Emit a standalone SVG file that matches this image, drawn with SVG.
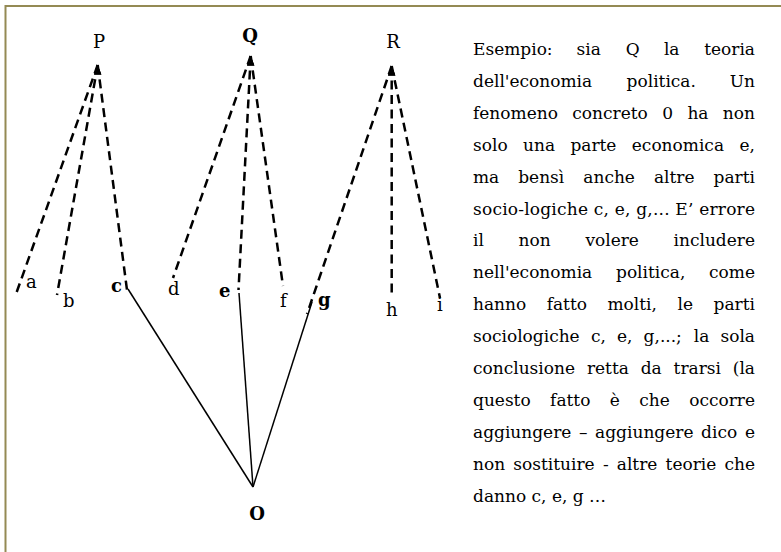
<svg xmlns="http://www.w3.org/2000/svg" width="781" height="552" viewBox="0 0 781 552">
<style>
text{font-family:"DejaVu Serif","Liberation Serif",serif;fill:#000}
.lbl{font-size:18px}
.b{font-weight:bold}
.par{font-size:17px}
.e{text-anchor:end}
.dash{fill:none;stroke:#000;stroke-width:2.5;stroke-dasharray:9 5.5;marker-start:url(#up)}
.solid{fill:none;stroke:#000;stroke-width:1.5}
</style>
<defs>
<marker id="up" markerUnits="userSpaceOnUse" markerWidth="10" markerHeight="8" refX="9.5" refY="3.6" orient="-90">
<path d="M0,0 L9.5,3.6 L0,7.2 z" fill="#000"/>
</marker>
</defs>
<rect width="781" height="552" fill="#fff"/>
<path d="M5.5,552 V6 H781" fill="none" stroke="#948A54" stroke-width="2"/>

<g id="connectors">
<path class="dash" d="M97.7,65 L16,294"/>
<path class="dash" d="M97.7,65 L57,295"/>
<path class="dash" d="M97.7,65 L127,290"/>
<path class="dash" d="M250.7,56 L173,278"/>
<path class="dash" d="M250.7,56 L238.5,290"/>
<path class="dash" d="M250.7,56 L283,286"/>
<path class="dash" d="M391.7,66 L307,314"/>
<path class="dash" d="M391.7,66 L391.7,298"/>
<path class="dash" d="M391.7,66 L440,298"/>
<path class="solid" d="M128,289 L253,487"/>
<path class="solid" d="M239,293 L253,487"/>
<path class="solid" d="M312,302 L253,487"/>
</g>

<g id="P"><text class="lbl" x="99" y="48" text-anchor="middle">P</text></g>
<g id="Q"><text class="lbl b" x="250" y="42" text-anchor="middle" font-size="20">Q</text></g>
<g id="R"><text class="lbl" x="393" y="48" text-anchor="middle">R</text></g>
<g id="a"><text class="lbl" x="26" y="288">a</text></g>
<g id="b"><text class="lbl" x="63" y="307">b</text></g>
<g id="c"><text class="lbl b" x="111" y="292">c</text></g>
<g id="d"><text class="lbl" x="168" y="295">d</text></g>
<g id="e"><text class="lbl b" x="219" y="297">e</text></g>
<g id="f"><text class="lbl" x="280" y="307">f</text></g>
<g id="g"><text class="lbl b" x="318" y="306">g</text></g>
<g id="h"><text class="lbl" x="386" y="316">h</text></g>
<g id="i"><text class="lbl" x="437" y="311">i</text></g>
<g id="O"><text class="lbl b" x="257" y="520" text-anchor="middle">O</text></g>

<g id="testo" class="par">
<text class="par" y="55"><tspan x="473">Esempio:</tspan><tspan x="576.6">sia</tspan><tspan x="625.7">Q</tspan><tspan x="663.9">la</tspan><tspan x="755" class="e">teoria</tspan></text>
<text class="par" y="86.9"><tspan x="473">dell'economia</tspan><tspan x="626.6">politica.</tspan><tspan x="755" class="e">Un</tspan></text>
<text class="par" y="118.8"><tspan x="473">fenomeno</tspan><tspan x="572.3">concreto</tspan><tspan x="662.2">0</tspan><tspan x="687.4">ha</tspan><tspan x="755" class="e">non</tspan></text>
<text class="par" y="150.7"><tspan x="473">solo</tspan><tspan x="523">una</tspan><tspan x="570.4">parte</tspan><tspan x="631.8">economica</tspan><tspan x="755" class="e">e,</tspan></text>
<text class="par" y="182.6"><tspan x="473">ma</tspan><tspan x="518.2">bensì</tspan><tspan x="583.3">anche</tspan><tspan x="653.9">altre</tspan><tspan x="755" class="e">parti</tspan></text>
<text class="par" y="214.5" x="473" textLength="282" lengthAdjust="spacing">socio-logiche c, e, g,... E’ errore</text>
<text class="par" y="246.4"><tspan x="473">il</tspan><tspan x="518.6">non</tspan><tspan x="585.4">volere</tspan><tspan x="755" class="e">includere</tspan></text>
<text class="par" y="278.3"><tspan x="473">nell'economia</tspan><tspan x="616">politica,</tspan><tspan x="755" class="e">come</tspan></text>
<text class="par" y="310.2"><tspan x="473">hanno</tspan><tspan x="546.7">fatto</tspan><tspan x="607.5">molti,</tspan><tspan x="677.5">le</tspan><tspan x="755" class="e">parti</tspan></text>
<text class="par" y="342.1"><tspan x="473">sociologiche</tspan><tspan x="590.9">c,</tspan><tspan x="617">e,</tspan><tspan x="643.6">g,...;</tspan><tspan x="693.8">la</tspan><tspan x="755" class="e">sola</tspan></text>
<text class="par" y="374"><tspan x="473">conclusione</tspan><tspan x="586.9">retta</tspan><tspan x="640.7">da</tspan><tspan x="673.6">trarsi</tspan><tspan x="755" class="e">(la</tspan></text>
<text class="par" y="405.9"><tspan x="473">questo</tspan><tspan x="550.1">fatto</tspan><tspan x="609.8">è</tspan><tspan x="639.3">che</tspan><tspan x="755" class="e">occorre</tspan></text>
<text class="par" y="437.8"><tspan x="473">aggiungere</tspan><tspan x="579">–</tspan><tspan x="595.1">aggiungere</tspan><tspan x="701.1">dico</tspan><tspan x="755" class="e">e</tspan></text>
<text class="par" y="469.7"><tspan x="473">non</tspan><tspan x="513.3">sostituire</tspan><tspan x="602.9">-</tspan><tspan x="616.8">altre</tspan><tspan x="665.6">teorie</tspan><tspan x="755" class="e">che</tspan></text>
<text class="par" y="501.6" x="473">danno c, e, g …</text>
</g>
</svg>
